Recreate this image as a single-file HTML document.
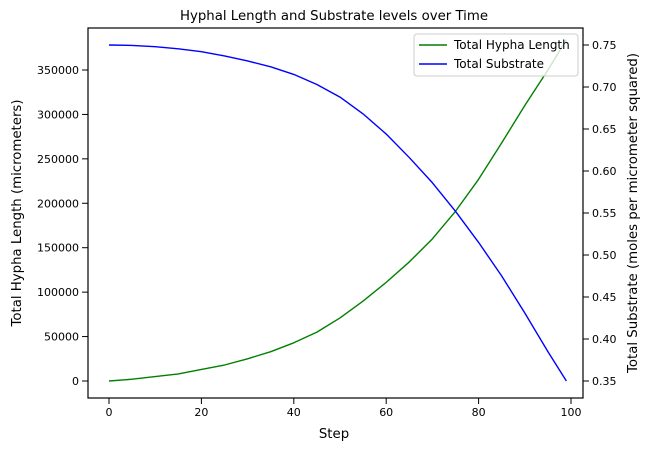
<!DOCTYPE html>
<html><head><meta charset="utf-8"><style>
body{margin:0;background:#fff;}
svg text{font-family:"DejaVu Sans","Liberation Sans",sans-serif;fill:#000;}
</style></head><body>
<svg id="chart" width="650" height="451" xmlns="http://www.w3.org/2000/svg"></svg>
<script>
const steps = [0,5,10,15,20,25,30,35,40,45,50,55,60,65,70,75,80,85,90,95,99];
const hyphaLength = [0,2000,5000,8000,13000,18000,25000,33000,43000,55000,71000,90000,111000,134000,160000,191000,227000,268000,310000,350000,384000];
const substrate = [0.75,0.7495,0.748,0.7455,0.742,0.737,0.731,0.724,0.715,0.703,0.688,0.668,0.644,0.616,0.586,0.552,0.515,0.475,0.431,0.385,0.35];
const xTicks = [0,20,40,60,80,100];
const yLeftTicks = [0,50000,100000,150000,200000,250000,300000,350000];
const yRightTicks = [0.35,0.40,0.45,0.50,0.55,0.60,0.65,0.70,0.75];

const L=88,R=583,T=28,B=398;
const X=v=>109+(v/100)*462;
const YL=v=>381-(v/50000)*44.43;
const YR=v=>381-((v-0.35)/0.05)*42;
const svg=document.getElementById('chart');
const NS='http://www.w3.org/2000/svg';
function mk(tag,attrs,parent){const e=document.createElementNS(NS,tag);for(const k in attrs)e.setAttribute(k,attrs[k]);(parent||svg).appendChild(e);return e;}

let t=mk('text',{x:334,y:20,'font-size':13.3,'text-anchor':'middle'});t.textContent='Hyphal Length and Substrate levels over Time';



const g1=mk('polyline',{points:steps.map((s,i)=>X(s)+','+YL(hyphaLength[i])).join(' '),fill:'none',stroke:'#008000','stroke-width':1.4,'stroke-linejoin':'round'});


const g2=mk('polyline',{points:steps.map((s,i)=>X(s)+','+YR(substrate[i])).join(' '),fill:'none',stroke:'#0000ff','stroke-width':1.4,'stroke-linejoin':'round'});



const fr=mk('rect',{x:L,y:T,width:R-L,height:B-T,fill:'none',stroke:'#000','stroke-width':1.2});



xTicks.forEach(v=>{mk('line',{x1:X(v),x2:X(v),y1:B,y2:B+6,stroke:'#000'});
 const e=mk('text',{x:X(v),y:B+18,'font-size':11,'text-anchor':'middle'});e.textContent=v;
 
 });
yLeftTicks.forEach(v=>{mk('line',{x1:L-6,x2:L,y1:YL(v),y2:YL(v),stroke:'#000'});
 const e=mk('text',{x:L-9,y:YL(v)+4,'font-size':11,'text-anchor':'end'});e.textContent=v;
 
 });
yRightTicks.forEach(v=>{mk('line',{x1:R,x2:R+6,y1:YR(v),y2:YR(v),stroke:'#000'});
 const e=mk('text',{x:R+9,y:YR(v)+4,'font-size':11,'text-anchor':'start'});e.textContent=v.toFixed(2);
 
 });

t=mk('text',{x:334,y:438,'font-size':13.3,'text-anchor':'middle'});t.textContent='Step';


t=mk('text',{x:0,y:0,'font-size':13.3,'text-anchor':'middle',transform:'translate(21,213) rotate(-90)'});t.textContent='Total Hypha Length (micrometers)';


t=mk('text',{x:0,y:0,'font-size':13.3,'text-anchor':'middle',transform:'translate(637,213) rotate(-90)'});t.textContent='Total Substrate (moles per micrometer squared)';



const lg=mk('g',{});


mk('rect',{x:414,y:34,width:164,height:42,fill:'#fff','fill-opacity':0.8,stroke:'#ccc',rx:3},lg);
mk('line',{x1:419,x2:447,y1:45,y2:45,stroke:'#008000','stroke-width':1.5},lg);
t=mk('text',{x:454,y:49,'font-size':12},lg);t.textContent='Total Hypha Length';


mk('line',{x1:419,x2:447,y1:64,y2:64,stroke:'#0000ff','stroke-width':1.5},lg);
t=mk('text',{x:454,y:68,'font-size':12},lg);t.textContent='Total Substrate';


</script>
</body></html>
